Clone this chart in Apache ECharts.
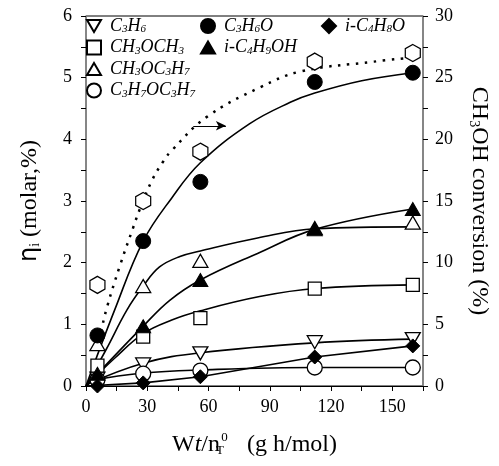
<!DOCTYPE html>
<html>
<head>
<meta charset="utf-8">
<script src="https://cdn.jsdelivr.net/npm/echarts@6/dist/echarts.min.js"></script>
<style>html,body{margin:0;padding:0;background:#fff}#c{width:499px;height:466px}</style>
</head>
<body>
<div id="c"></div>
<script>
// ---- data ----
const xVals = [5.6, 28, 56, 112, 160];
const yC3H6      = [0.12, 0.35, 0.53, 0.71, 0.76];
const yC3H6O     = [0.82, 2.35, 3.31, 4.93, 5.08];
const yiC4H8O    = [0.00, 0.05, 0.15, 0.47, 0.65];
const yCH3OCH3   = [0.33, 0.80, 1.10, 1.58, 1.64];
const yiC4H9OH   = [0.20, 0.97, 1.72, 2.54, 2.87];
const yCH3OC3H7  = [0.68, 1.62, 2.03, 2.56, 2.65];
const yC3H7OC3H7 = [0.10, 0.20, 0.25, 0.30, 0.30];
const yConv      = [8.2, 15.0, 19.0, 26.3, 27.0];

// fitted curves, points
const fitC3H6      = [[0,0.02],[28,0.37],[56,0.54],[112,0.70],[160,0.76]];
const fitC3H6O     = [[0,0],[14,1.23],[28,2.35],[42,3.05],[56,3.62],[80,4.25],[100,4.6],[112,4.75],[135,4.95],[160,5.08]];
const fitiC4H8O    = [[0,0],[28,0.05],[56,0.15],[112,0.47],[160,0.65]];
const fitCH3OCH3   = [[0,0],[14,0.45],[28,0.85],[42,1.07],[56,1.22],[85,1.45],[112,1.58],[160,1.64]];
const fitiC4H9OH   = [[0,0],[28,0.97],[41,1.39],[56,1.72],[84,2.15],[112,2.54],[160,2.87]];
const fitCH3OC3H7  = [[0,0],[10,0.6],[20,1.23],[28,1.62],[36,1.93],[46,2.1],[56,2.19],[84,2.4],[112,2.55],[160,2.58]];
const fitC3H7OC3H7 = [[0,0],[5.6,0.1],[28,0.21],[56,0.26],[112,0.3],[160,0.3]];
const fitConv      = [[5,3],[7,4.2],[10.3,6.4],[16.7,9.8],[23,12.8],[26.5,14.4],[32.4,16.7],[37.8,18.2],[42,19.1],[59,21.8],[85,24.2],[105,25.5],[141,26.3],[158,26.6]];

const xTicks = [0, 30, 60, 90, 120, 150];

// ---- chart ----
const serif = 'Liberation Serif';
const pair = ys => xVals.map((x, i) => [x, ys[i]]);
const toRich = n => { let o=''; for (const ch of n) o += /\d/.test(ch) ? '{s|'+ch+'}' : '{i|'+ch+'}'; return o; };

const downTri = 'path://M0,0 L2,0 L1,1.732 Z';
const upTri = 'path://M1,0 L2,1.732 L0,1.732 Z';
const hexagon = 'path://M0.866,0 L1.732,0.5 L1.732,1.5 L0.866,2 L0,1.5 L0,0.5 Z';
const open = {color:'#fff', borderColor:'#000', borderWidth:1.3, opacity:1};
const filled = {color:'#000', borderColor:'#000', borderWidth:1, opacity:1};

const markers = [
  {name:'C3H6', data:yC3H6, symbol:downTri, size:[15,13], style:open},
  {name:'CH3OCH3', data:yCH3OCH3, symbol:'rect', size:13, style:open},
  {name:'CH3OC3H7', data:yCH3OC3H7, symbol:upTri, size:[15,13], style:open},
  {name:'C3H7OC3H7', data:yC3H7OC3H7, symbol:'circle', size:15, style:open},
  {name:'C3H6O', data:yC3H6O, symbol:'circle', size:15, style:filled},
  {name:'i-C4H9OH', data:yiC4H9OH, symbol:upTri, size:[15,13], style:filled},
  {name:'i-C4H8O', data:yiC4H8O, symbol:'diamond', size:14, style:filled}
];
const fits = [fitC3H6, fitCH3OCH3, fitCH3OC3H7, fitC3H7OC3H7, fitC3H6O, fitiC4H9OH, fitiC4H8O];

const series = [];
fits.forEach((f, i) => series.push({
  type:'line', data:f, symbol:'none', smooth: (i===6 ? false : 0.4), silent:true,
  lineStyle:{color:'#000', width:1.6}, z:2
}));
series.push({
  type:'line', yAxisIndex:1, data:fitConv, symbol:'none', smooth:0.4, silent:true,
  lineStyle:{color:'#000', width:2.5, type:[2.5,6.5]}, z:2,
  markLine:{silent:true, symbol:['none','arrow'], symbolSize:[7,10],
    lineStyle:{color:'#000', width:1.2, type:'solid'}, label:{show:false},
    data:[[{coord:[52.5,21.1]},{coord:[68.5,21.1]}]]}
});
markers.forEach(m => series.push({
  type:'scatter', name:m.name, data:pair(m.data), symbol:m.symbol, symbolSize:m.size,
  itemStyle:m.style, z:5
}));
series.push({
  type:'scatter', name:'conv', yAxisIndex:1, data:pair(yConv), symbol:hexagon, symbolSize:[15,17],
  itemStyle:open, z:5
});

const legendText = {
  fontFamily:serif, fontStyle:'italic', fontSize:18, color:'#000', padding:[0,0,0,4],
  rich:{
    i:{fontFamily:serif, fontStyle:'italic', fontSize:18, lineHeight:18, verticalAlign:'bottom', color:'#000'},
    s:{fontFamily:serif, fontStyle:'italic', fontSize:11, lineHeight:7, verticalAlign:'bottom', color:'#000'}
  }
};
const mkLegend = (left, names) => ({
  orient:'vertical', left:left, top:17, itemWidth:14, itemHeight:14, itemGap:3.5,
  padding:0, data:names, formatter:toRich, textStyle:legendText, selectedMode:false
});

const axisLbl = {fontFamily:serif, fontSize:18, color:'#000'};
const chart = echarts.init(document.getElementById('c'));
chart.setOption({
  animation:false,
  backgroundColor:'#fff',
  grid:{left:86, right:76, top:16, bottom:80, show:true, borderColor:'#000', borderWidth:1},
  legend:[
    mkLegend(86, ['C3H6','CH3OCH3','CH3OC3H7','C3H7OC3H7']),
    mkLegend(200, ['C3H6O','i-C4H9OH']),
    mkLegend(321, ['i-C4H8O'])
  ],
  xAxis:{
    type:'value', min:0, max:165, interval:15,
    axisLine:{lineStyle:{color:'#000', width:1}},
    axisTick:{inside:false, length:5, lineStyle:{color:'#000'}},
    splitLine:{show:false},
    axisLabel:{...axisLbl, margin:12, formatter:v => xTicks.includes(v) ? String(v) : ''},
    name:'{r|W}{t|t}{r|/n}{sub|T}{sup|0}{r|   (g h/mol)}', nameLocation:'middle', nameGap:45,
    nameTextStyle:{fontFamily:serif, fontSize:24, color:'#000', rich:{
      r:{fontFamily:serif, fontSize:24, color:'#000', lineHeight:26, verticalAlign:'bottom'},
      t:{fontFamily:serif, fontSize:24, fontStyle:'italic', color:'#000', lineHeight:26, verticalAlign:'bottom'},
      sub:{fontFamily:serif, fontSize:13, color:'#000', lineHeight:8, verticalAlign:'bottom', width:0},
      sup:{fontFamily:serif, fontSize:13, color:'#000', lineHeight:8, verticalAlign:'top', width:9}
    }}
  },
  yAxis:[{
    type:'value', min:0, max:6, interval:0.5, position:'left',
    axisLine:{show:true, lineStyle:{color:'#888', width:1.5}},
    axisTick:{show:true, inside:false, length:5, lineStyle:{color:'#000'}},
    splitLine:{show:false},
    axisLabel:{...axisLbl, margin:14, formatter:v => Number.isInteger(v) ? String(v) : ''},
    name:'{e|η}{s|i}{r| (molar,%)}', nameLocation:'middle', nameRotate:90, nameGap:44,
    nameTextStyle:{fontFamily:serif, fontSize:24, color:'#000', rich:{
      e:{fontFamily:'DejaVu Sans', fontSize:24, color:'#000', lineHeight:26, verticalAlign:'bottom'},
      r:{fontFamily:serif, fontSize:24, color:'#000', lineHeight:26, verticalAlign:'bottom'},
      s:{fontFamily:serif, fontSize:14, color:'#000', lineHeight:8, verticalAlign:'bottom'}
    }}
  },{
    type:'value', min:0, max:30, interval:2.5, position:'right',
    axisLine:{show:true, lineStyle:{color:'#888', width:1.5}},
    axisTick:{show:true, inside:false, length:5, lineStyle:{color:'#000'}},
    splitLine:{show:false},
    axisLabel:{...axisLbl, margin:12, formatter:v => (v % 5 === 0) ? String(v) : ''},
    name:'{r|CH}{s|3}{r|OH conversion (%)}', nameLocation:'middle', nameRotate:-90, nameGap:44,
    nameTextStyle:{fontFamily:serif, fontSize:24, color:'#000', rich:{
      r:{fontFamily:serif, fontSize:24, color:'#000', lineHeight:26, verticalAlign:'bottom'},
      s:{fontFamily:serif, fontSize:14, color:'#000', lineHeight:8, verticalAlign:'bottom'}
    }}
  }],
  series:series
});
</script>
</body>
</html>
